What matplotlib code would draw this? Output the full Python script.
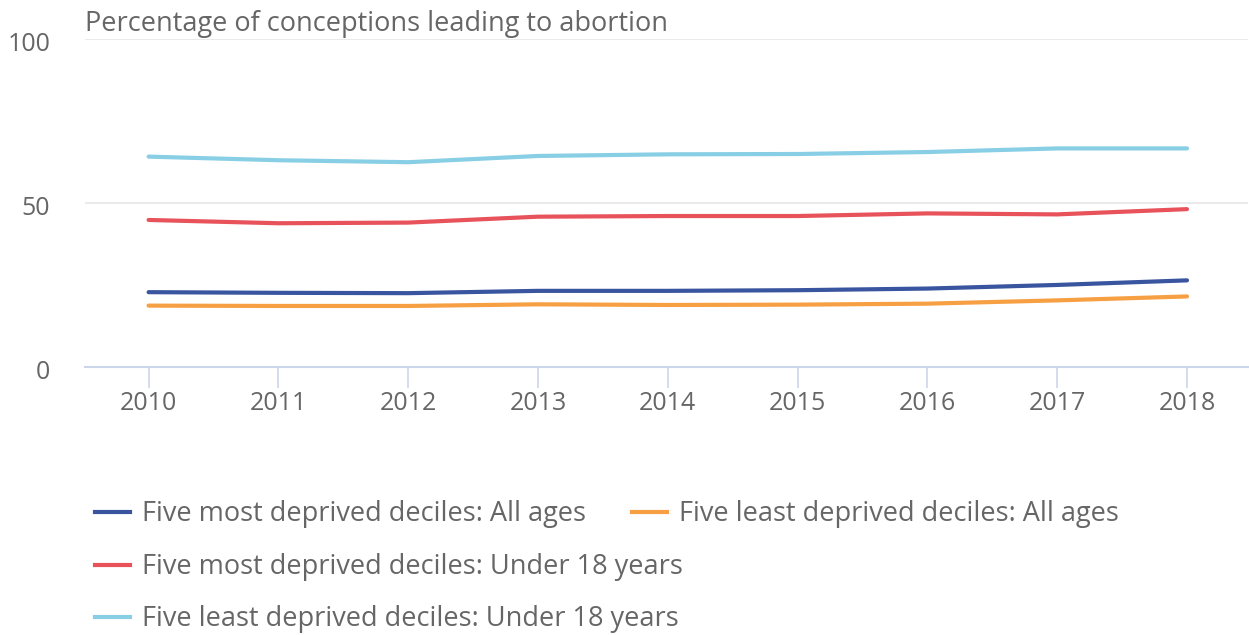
import matplotlib
matplotlib.use("Agg")
import matplotlib.pyplot as plt
from matplotlib.lines import Line2D
import matplotlib.transforms as mtransforms

plt.rcParams['font.family'] = ['Open Sans', 'DejaVu Sans']

years = [2010, 2011, 2012, 2013, 2014, 2015, 2016, 2017, 2018]
most_all = [22.8, 22.6, 22.5, 23.2, 23.2, 23.4, 23.9, 25.0, 26.4]
least_all = [18.7, 18.6, 18.6, 19.1, 18.9, 19.0, 19.3, 20.3, 21.5]
most_u18 = [44.8, 43.8, 44.0, 45.8, 46.0, 46.0, 46.8, 46.5, 48.1]
least_u18 = [64.1, 63.0, 62.4, 64.3, 64.8, 64.9, 65.5, 66.6, 66.6]

labels = ["Five most deprived deciles: All ages",
          "Five least deprived deciles: All ages",
          "Five most deprived deciles: Under 18 years",
          "Five least deprived deciles: Under 18 years"]
colors = ["#3a559f", "#f79f43", "#e8525a", "#88cfe5"]
series = [most_all, least_all, most_u18, least_u18]

W, H = 1249, 635
fig = plt.figure(figsize=(W / 100, H / 100), dpi=100)
ax = fig.add_axes([85 / W, 1 - 367 / H, (1248 - 85) / W, (367 - 38.8) / H])

for vals, col in zip(series, colors):
    ax.plot(years, vals, color=col, lw=3, solid_capstyle='round', clip_on=False)

ax.set_xlim(2009.51, 2018.47)
ax.set_ylim(0, 100)
ax.set_yticks([0, 50, 100])
ax.set_xticks(years)
ax.grid(axis='y', color='#e6e6e6', lw=1.2)
ax.set_axisbelow(True)
for s in ['top', 'right', 'left']:
    ax.spines[s].set_visible(False)
ax.spines['bottom'].set_color('#ccd6eb')
ax.spines['bottom'].set_linewidth(1.5)
ax.tick_params(axis='x', length=15, width=1.2, color='#ccd6eb', pad=2,
               labelsize=18, labelcolor='#666666')
ax.tick_params(axis='y', length=0, pad=25, labelsize=18, labelcolor='#666666')
# y labels sit a little below their gridlines
shift = mtransforms.ScaledTranslation(0, -3 / 100, fig.dpi_scale_trans)
for t in ax.get_yticklabels():
    t.set_transform(t.get_transform() + shift)

fig.text(85 / W, 1 - 24 / H, "Percentage of conceptions leading to abortion",
         fontsize=19.5, color='#666666', va='center', ha='left')

# legend laid out like the original (flow layout)
pos = [(95, 512), (632, 512), (95, 565), (95, 617)]
for (x, y), lab, col in zip(pos, labels, colors):
    fig.add_artist(Line2D([x / W, (x + 35) / W], [1 - y / H, 1 - y / H],
                          color=col, lw=3, transform=fig.transFigure))
    fig.text((x + 47) / W, 1 - (y + 2) / H, lab, fontsize=19.5, color='#666666',
             va='center', ha='left')

fig.savefig("out.png", dpi=100)
